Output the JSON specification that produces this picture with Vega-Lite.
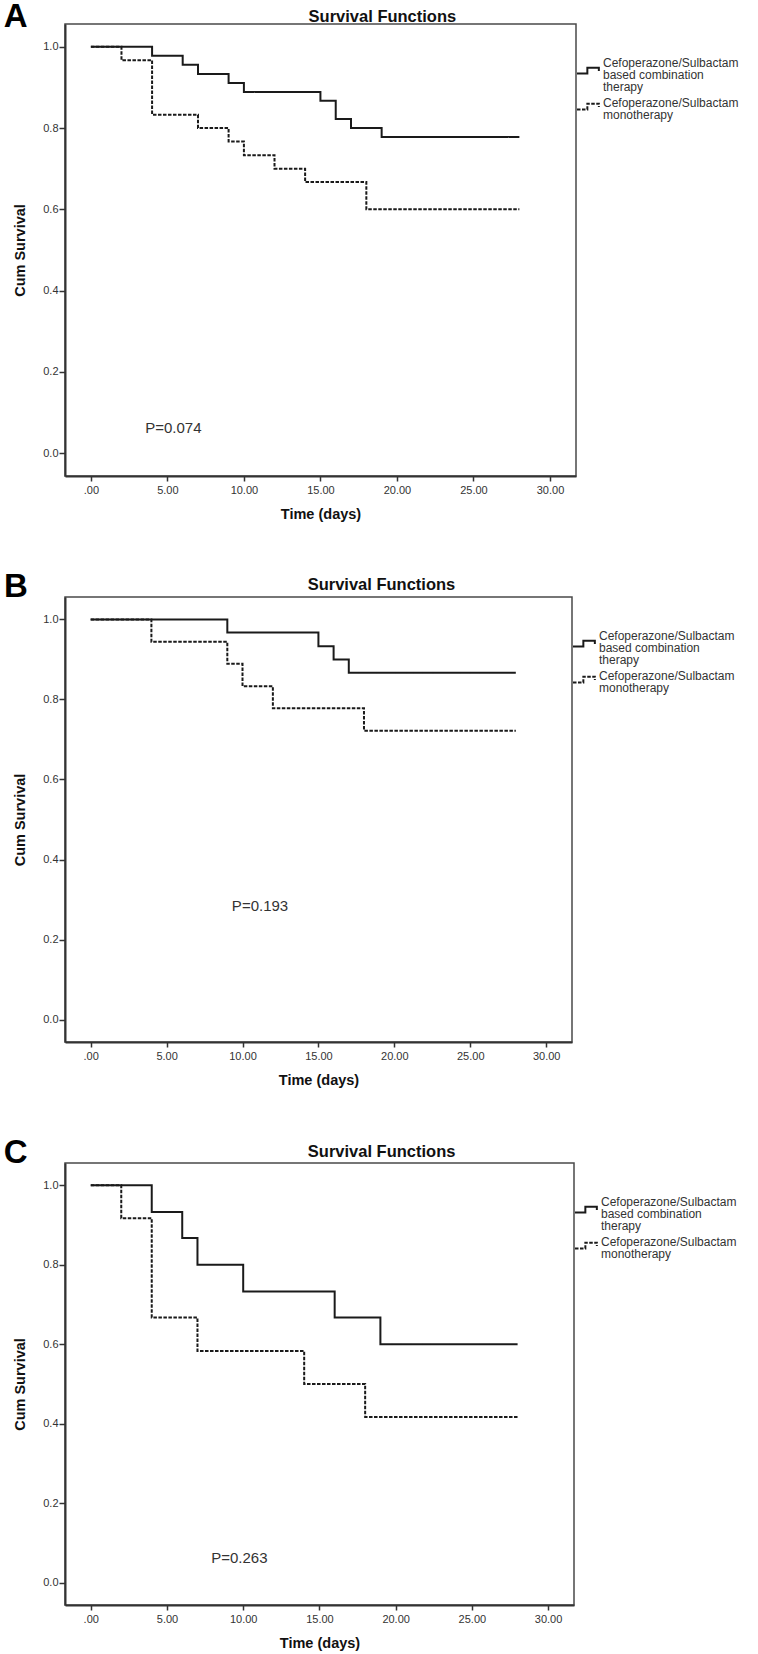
{
  "$schema": "https://vega.github.io/schema/vega-lite/v6.json",
  "background": "white",
  "padding": {"left": 2, "top": 0, "right": 5, "bottom": 5},
  "bounds": "flush",
  "spacing": 121,
  "config": {
    "font": "Liberation Sans",
    "view": {"stroke": "#4a4a4a", "strokeWidth": 1.5},
    "axis": {
      "grid": false,
      "domainColor": "#333333",
      "domainWidth": 2,
      "tickColor": "#333333",
      "tickWidth": 1.5,
      "labelFont": "Liberation Sans",
      "labelFontSize": 11,
      "labelColor": "#333333",
      "titleFont": "Liberation Sans",
      "titleFontSize": 14.5,
      "titleFontWeight": "bold",
      "titleColor": "#111111"
    },
    "axisX": {"tickSize": 5, "labelPadding": 3, "titlePadding": 12},
    "axisY": {"tickSize": 6, "labelPadding": 1, "titlePadding": 15},
    "legend": {
      "title": null,
      "orient": "none",
      "padding": 0,
      "symbolType": "M -1 0.25 L -0.1 0.25 L -0.1 -0.25 L 0.9 -0.25 L 0.9 0.05",
      "symbolSize": 529,
      "symbolStrokeWidth": 2,
      "symbolStrokeColor": "#1a1a1a",
      "symbolFillColor": "transparent",
      "labelFont": "Liberation Sans",
      "labelFontSize": 12,
      "labelColor": "#333333",
      "labelOffset": 2,
      "labelLimit": 400,
      "rowPadding": 0
    }
  },
  "datasets": {
    "km": [
      {"panel": "A", "group": "Cefoperazone/Sulbactam based combination therapy", "time": 0, "survival": 1.0},
      {"panel": "A", "group": "Cefoperazone/Sulbactam based combination therapy", "time": 4, "survival": 0.978},
      {"panel": "A", "group": "Cefoperazone/Sulbactam based combination therapy", "time": 6, "survival": 0.956},
      {"panel": "A", "group": "Cefoperazone/Sulbactam based combination therapy", "time": 7, "survival": 0.933},
      {"panel": "A", "group": "Cefoperazone/Sulbactam based combination therapy", "time": 9, "survival": 0.911},
      {"panel": "A", "group": "Cefoperazone/Sulbactam based combination therapy", "time": 10, "survival": 0.889},
      {"panel": "A", "group": "Cefoperazone/Sulbactam based combination therapy", "time": 15, "survival": 0.867},
      {"panel": "A", "group": "Cefoperazone/Sulbactam based combination therapy", "time": 16, "survival": 0.822},
      {"panel": "A", "group": "Cefoperazone/Sulbactam based combination therapy", "time": 17, "survival": 0.8},
      {"panel": "A", "group": "Cefoperazone/Sulbactam based combination therapy", "time": 19, "survival": 0.778},
      {"panel": "A", "group": "Cefoperazone/Sulbactam based combination therapy", "time": 28, "survival": 0.778},
      {"panel": "A", "group": "Cefoperazone/Sulbactam monotherapy", "time": 0, "survival": 1.0},
      {"panel": "A", "group": "Cefoperazone/Sulbactam monotherapy", "time": 2, "survival": 0.967},
      {"panel": "A", "group": "Cefoperazone/Sulbactam monotherapy", "time": 4, "survival": 0.833},
      {"panel": "A", "group": "Cefoperazone/Sulbactam monotherapy", "time": 7, "survival": 0.8},
      {"panel": "A", "group": "Cefoperazone/Sulbactam monotherapy", "time": 9, "survival": 0.767},
      {"panel": "A", "group": "Cefoperazone/Sulbactam monotherapy", "time": 10, "survival": 0.733},
      {"panel": "A", "group": "Cefoperazone/Sulbactam monotherapy", "time": 12, "survival": 0.7},
      {"panel": "A", "group": "Cefoperazone/Sulbactam monotherapy", "time": 14, "survival": 0.667},
      {"panel": "A", "group": "Cefoperazone/Sulbactam monotherapy", "time": 18, "survival": 0.6},
      {"panel": "A", "group": "Cefoperazone/Sulbactam monotherapy", "time": 28, "survival": 0.6},
      {"panel": "B", "group": "Cefoperazone/Sulbactam based combination therapy", "time": 0, "survival": 1.0},
      {"panel": "B", "group": "Cefoperazone/Sulbactam based combination therapy", "time": 9, "survival": 0.967},
      {"panel": "B", "group": "Cefoperazone/Sulbactam based combination therapy", "time": 15, "survival": 0.933},
      {"panel": "B", "group": "Cefoperazone/Sulbactam based combination therapy", "time": 16, "survival": 0.9},
      {"panel": "B", "group": "Cefoperazone/Sulbactam based combination therapy", "time": 17, "survival": 0.867},
      {"panel": "B", "group": "Cefoperazone/Sulbactam based combination therapy", "time": 28, "survival": 0.867},
      {"panel": "B", "group": "Cefoperazone/Sulbactam monotherapy", "time": 0, "survival": 1.0},
      {"panel": "B", "group": "Cefoperazone/Sulbactam monotherapy", "time": 4, "survival": 0.944},
      {"panel": "B", "group": "Cefoperazone/Sulbactam monotherapy", "time": 9, "survival": 0.889},
      {"panel": "B", "group": "Cefoperazone/Sulbactam monotherapy", "time": 10, "survival": 0.833},
      {"panel": "B", "group": "Cefoperazone/Sulbactam monotherapy", "time": 12, "survival": 0.778},
      {"panel": "B", "group": "Cefoperazone/Sulbactam monotherapy", "time": 18, "survival": 0.722},
      {"panel": "B", "group": "Cefoperazone/Sulbactam monotherapy", "time": 28, "survival": 0.722},
      {"panel": "C", "group": "Cefoperazone/Sulbactam based combination therapy", "time": 0, "survival": 1.0},
      {"panel": "C", "group": "Cefoperazone/Sulbactam based combination therapy", "time": 4, "survival": 0.933},
      {"panel": "C", "group": "Cefoperazone/Sulbactam based combination therapy", "time": 6, "survival": 0.867},
      {"panel": "C", "group": "Cefoperazone/Sulbactam based combination therapy", "time": 7, "survival": 0.8},
      {"panel": "C", "group": "Cefoperazone/Sulbactam based combination therapy", "time": 10, "survival": 0.733},
      {"panel": "C", "group": "Cefoperazone/Sulbactam based combination therapy", "time": 16, "survival": 0.667},
      {"panel": "C", "group": "Cefoperazone/Sulbactam based combination therapy", "time": 19, "survival": 0.6},
      {"panel": "C", "group": "Cefoperazone/Sulbactam based combination therapy", "time": 28, "survival": 0.6},
      {"panel": "C", "group": "Cefoperazone/Sulbactam monotherapy", "time": 0, "survival": 1.0},
      {"panel": "C", "group": "Cefoperazone/Sulbactam monotherapy", "time": 2, "survival": 0.917},
      {"panel": "C", "group": "Cefoperazone/Sulbactam monotherapy", "time": 4, "survival": 0.667},
      {"panel": "C", "group": "Cefoperazone/Sulbactam monotherapy", "time": 7, "survival": 0.583},
      {"panel": "C", "group": "Cefoperazone/Sulbactam monotherapy", "time": 14, "survival": 0.5},
      {"panel": "C", "group": "Cefoperazone/Sulbactam monotherapy", "time": 18, "survival": 0.417},
      {"panel": "C", "group": "Cefoperazone/Sulbactam monotherapy", "time": 28, "survival": 0.417}
    ],
    "notes": [
      {"panel": "A", "kind": "letter", "text": "A"},
      {"panel": "A", "kind": "p", "text": "P=0.074"},
      {"panel": "A", "kind": "title", "text": "Survival Functions"},
      {"panel": "B", "kind": "letter", "text": "B"},
      {"panel": "B", "kind": "p", "text": "P=0.193"},
      {"panel": "B", "kind": "title", "text": "Survival Functions"},
      {"panel": "C", "kind": "letter", "text": "C"},
      {"panel": "C", "kind": "p", "text": "P=0.263"},
      {"panel": "C", "kind": "title", "text": "Survival Functions"}
    ]
  },
  "vconcat": [
    {
      "width": 511,
      "height": 452,
      "layer": [
        {
          "data": {"name": "km"},
          "transform": [{"filter": "datum.panel == 'A'"}],
          "mark": {"type": "line", "interpolate": "step-after", "color": "#1a1a1a", "strokeWidth": 2},
          "encoding": {
            "x": {"field": "time", "type": "quantitative", "title": "Time (days)",
              "scale": {"domain": [-1.69, 31.7], "nice": false, "zero": false},
              "axis": {"values": [0, 5, 10, 15, 20, 25, 30], "labelExpr": "datum.value === 0 ? '.00' : format(datum.value, '.2f')"}},
            "y": {"field": "survival", "type": "quantitative", "title": "Cum Survival",
              "scale": {"domain": [-0.056, 1.056], "nice": false, "zero": false},
              "axis": {"values": [0, 0.2, 0.4, 0.6, 0.8, 1.0], "format": ".1f"}},
            "strokeDash": {"field": "group", "type": "nominal",
              "scale": {"domain": ["Cefoperazone/Sulbactam based combination therapy", "Cefoperazone/Sulbactam monotherapy"], "range": [[1, 0], [3.5, 1.5]]},
              "legend": {"legendX": 511, "legendY": 34,
                "labelExpr": "datum.label == 'Cefoperazone/Sulbactam based combination therapy' ? ['Cefoperazone/Sulbactam', 'based combination', 'therapy'] : ['Cefoperazone/Sulbactam', 'monotherapy']",
                "encode": {"labels": {"update": {"lineHeight": {"value": 12.3}, "dy": {"signal": "datum.index === 0 ? -8 : -4"}}}}}}
          }
        },
        {
          "data": {"name": "notes"},
          "transform": [{"filter": "datum.panel == 'A' && datum.kind == 'p'"}],
          "mark": {"type": "text", "align": "left", "baseline": "middle", "fontSize": 15, "color": "#333333"},
          "encoding": {"x": {"datum": 3.55}, "y": {"datum": 0.063}, "text": {"field": "text"}}
        },
        {
          "data": {"name": "notes"},
          "transform": [{"filter": "datum.panel == 'A' && datum.kind == 'title'"}],
          "mark": {"type": "text", "align": "center", "baseline": "alphabetic", "fontSize": 16.5, "fontWeight": "bold", "color": "#111111", "dy": -2.4},
          "encoding": {"x": {"datum": 19.05}, "y": {"datum": 1.056}, "text": {"field": "text"}}
        },
        {
          "data": {"name": "notes"},
          "transform": [{"filter": "datum.panel == 'A' && datum.kind == 'letter'"}],
          "mark": {"type": "text", "align": "left", "baseline": "alphabetic", "fontSize": 33, "fontWeight": "bold", "color": "#000000", "dy": 3.4},
          "encoding": {"x": {"datum": -5.7}, "y": {"datum": 1.056}, "text": {"field": "text"}}
        }
      ]
    },
    {
      "width": 507,
      "height": 445,
      "layer": [
        {
          "data": {"name": "km"},
          "transform": [{"filter": "datum.panel == 'B'"}],
          "mark": {"type": "line", "interpolate": "step-after", "color": "#1a1a1a", "strokeWidth": 2},
          "encoding": {
            "x": {"field": "time", "type": "quantitative", "title": "Time (days)",
              "scale": {"domain": [-1.69, 31.7], "nice": false, "zero": false},
              "axis": {"values": [0, 5, 10, 15, 20, 25, 30], "labelExpr": "datum.value === 0 ? '.00' : format(datum.value, '.2f')"}},
            "y": {"field": "survival", "type": "quantitative", "title": "Cum Survival",
              "scale": {"domain": [-0.056, 1.056], "nice": false, "zero": false},
              "axis": {"values": [0, 0.2, 0.4, 0.6, 0.8, 1.0], "format": ".1f"}},
            "strokeDash": {"field": "group", "type": "nominal",
              "scale": {"domain": ["Cefoperazone/Sulbactam based combination therapy", "Cefoperazone/Sulbactam monotherapy"], "range": [[1, 0], [3.5, 1.5]]},
              "legend": {"legendX": 507, "legendY": 34,
                "labelExpr": "datum.label == 'Cefoperazone/Sulbactam based combination therapy' ? ['Cefoperazone/Sulbactam', 'based combination', 'therapy'] : ['Cefoperazone/Sulbactam', 'monotherapy']",
                "encode": {"labels": {"update": {"lineHeight": {"value": 12.3}, "dy": {"signal": "datum.index === 0 ? -8 : -4"}}}}}}
          }
        },
        {
          "data": {"name": "notes"},
          "transform": [{"filter": "datum.panel == 'B' && datum.kind == 'p'"}],
          "mark": {"type": "text", "align": "left", "baseline": "middle", "fontSize": 15, "color": "#333333"},
          "encoding": {"x": {"datum": 9.3}, "y": {"datum": 0.285}, "text": {"field": "text"}}
        },
        {
          "data": {"name": "notes"},
          "transform": [{"filter": "datum.panel == 'B' && datum.kind == 'title'"}],
          "mark": {"type": "text", "align": "center", "baseline": "alphabetic", "fontSize": 16.5, "fontWeight": "bold", "color": "#111111", "dy": -6.7},
          "encoding": {"x": {"datum": 19.15}, "y": {"datum": 1.056}, "text": {"field": "text"}}
        },
        {
          "data": {"name": "notes"},
          "transform": [{"filter": "datum.panel == 'B' && datum.kind == 'letter'"}],
          "mark": {"type": "text", "align": "left", "baseline": "alphabetic", "fontSize": 33, "fontWeight": "bold", "color": "#000000"},
          "encoding": {"x": {"datum": -5.7}, "y": {"datum": 1.056}, "text": {"field": "text"}}
        }
      ]
    },
    {
      "width": 509,
      "height": 442,
      "layer": [
        {
          "data": {"name": "km"},
          "transform": [{"filter": "datum.panel == 'C'"}],
          "mark": {"type": "line", "interpolate": "step-after", "color": "#1a1a1a", "strokeWidth": 2},
          "encoding": {
            "x": {"field": "time", "type": "quantitative", "title": "Time (days)",
              "scale": {"domain": [-1.69, 31.7], "nice": false, "zero": false},
              "axis": {"values": [0, 5, 10, 15, 20, 25, 30], "labelExpr": "datum.value === 0 ? '.00' : format(datum.value, '.2f')"}},
            "y": {"field": "survival", "type": "quantitative", "title": "Cum Survival",
              "scale": {"domain": [-0.056, 1.056], "nice": false, "zero": false},
              "axis": {"values": [0, 0.2, 0.4, 0.6, 0.8, 1.0], "format": ".1f"}},
            "strokeDash": {"field": "group", "type": "nominal",
              "scale": {"domain": ["Cefoperazone/Sulbactam based combination therapy", "Cefoperazone/Sulbactam monotherapy"], "range": [[1, 0], [3.5, 1.5]]},
              "legend": {"legendX": 509, "legendY": 34,
                "labelExpr": "datum.label == 'Cefoperazone/Sulbactam based combination therapy' ? ['Cefoperazone/Sulbactam', 'based combination', 'therapy'] : ['Cefoperazone/Sulbactam', 'monotherapy']",
                "encode": {"labels": {"update": {"lineHeight": {"value": 12.3}, "dy": {"signal": "datum.index === 0 ? -8 : -4"}}}}}}
          }
        },
        {
          "data": {"name": "notes"},
          "transform": [{"filter": "datum.panel == 'C' && datum.kind == 'p'"}],
          "mark": {"type": "text", "align": "left", "baseline": "middle", "fontSize": 15, "color": "#333333"},
          "encoding": {"x": {"datum": 7.9}, "y": {"datum": 0.0625}, "text": {"field": "text"}}
        },
        {
          "data": {"name": "notes"},
          "transform": [{"filter": "datum.panel == 'C' && datum.kind == 'title'"}],
          "mark": {"type": "text", "align": "center", "baseline": "alphabetic", "fontSize": 16.5, "fontWeight": "bold", "color": "#111111", "dy": -6.3},
          "encoding": {"x": {"datum": 19.08}, "y": {"datum": 1.056}, "text": {"field": "text"}}
        },
        {
          "data": {"name": "notes"},
          "transform": [{"filter": "datum.panel == 'C' && datum.kind == 'letter'"}],
          "mark": {"type": "text", "align": "left", "baseline": "alphabetic", "fontSize": 33, "fontWeight": "bold", "color": "#000000"},
          "encoding": {"x": {"datum": -5.7}, "y": {"datum": 1.056}, "text": {"field": "text"}}
        }
      ]
    }
  ],
  "resolve": {"scale": {"strokeDash": "independent", "x": "independent", "y": "independent"}, "legend": {"strokeDash": "independent"}}
}
